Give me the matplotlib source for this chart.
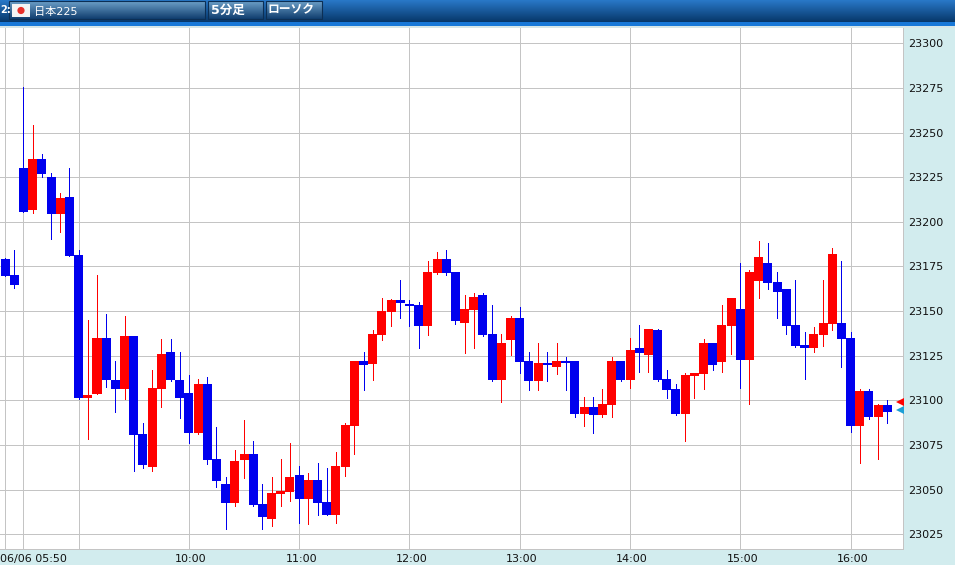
import numpy as np
import matplotlib
matplotlib.use('Agg')
import matplotlib.pyplot as plt
from matplotlib.patches import Rectangle, Circle

plt.rcParams['font.family'] = ['DejaVu Sans', 'Noto Sans CJK JP']

open_ = [23179.2, 23170.2, 23230.1, 23206.6, 23235.2, 23225.1, 23204.4, 23213.9, 23181.4, 23101.3,
         23103.5, 23134.9, 23111.4, 23106.3, 23136.0, 23081.1, 23062.6, 23106.3, 23127.1, 23111.4,
         23104.1, 23081.7, 23109.1, 23067.1, 23053.1, 23042.5, 23066.6, 23069.9, 23041.9, 23033.5,
         23047.5, 23048.6, 23058.2, 23044.7, 23055.4, 23043.0, 23035.8, 23062.6, 23085.6, 23122.0,
         23120.3, 23136.6, 23149.5, 23156.2, 23154.0, 23153.4, 23141.6, 23171.3, 23179.2, 23171.9,
         23143.3, 23150.6, 23159.0, 23137.2, 23111.4, 23133.8, 23146.1, 23122.0, 23110.8, 23120.9,
         23118.7, 23122.0, 23122.0, 23092.3, 23096.3, 23091.8, 23097.4, 23122.0, 23111.4, 23129.3,
         23125.4, 23139.4, 23111.9, 23106.3, 23092.3, 23113.6, 23114.7, 23132.1, 23121.5, 23141.6,
         23151.2, 23122.6, 23166.8, 23176.9, 23166.3, 23162.4, 23142.2, 23131.0, 23129.3, 23136.6,
         23142.8, 23143.3, 23134.9, 23085.6, 23105.2, 23090.7, 23097.4]
close = [23169.8, 23164.6, 23205.7, 23235.2, 23226.8, 23204.4, 23213.3, 23180.8, 23101.3, 23103.0,
         23134.9, 23111.4, 23106.3, 23136.0, 23080.6, 23063.8, 23106.9, 23125.9, 23111.4, 23101.3,
         23081.7, 23109.1, 23066.6, 23054.8, 23042.5, 23066.0, 23069.9, 23041.4, 23034.6, 23048.1,
         23049.2, 23057.0, 23044.7, 23055.4, 23042.5, 23035.8, 23063.2, 23086.2, 23122.0, 23119.8,
         23137.2, 23150.0, 23156.2, 23154.5, 23152.8, 23141.6, 23171.9, 23179.2, 23171.3, 23144.4,
         23151.2, 23157.9, 23136.6, 23111.4, 23132.1, 23146.1, 23121.5, 23110.8, 23120.9, 23119.8,
         23122.0, 23120.9, 23092.3, 23096.3, 23091.8, 23097.9, 23122.0, 23111.4, 23128.2, 23126.5,
         23140.0, 23111.4, 23105.8, 23092.3, 23114.2, 23115.3, 23132.1, 23119.8, 23142.2, 23157.3,
         23122.6, 23171.9, 23180.3, 23165.7, 23160.7, 23141.6, 23130.4, 23129.3, 23137.2, 23143.3,
         23182.0, 23134.4, 23085.6, 23105.2, 23090.7, 23097.4, 23093.5]
high = [23179.7, 23184.2, 23275.7, 23254.2, 23238.0, 23227.3, 23216.1, 23230.1, 23184.2, 23145.0,
        23170.2, 23148.4, 23122.0, 23147.2, 23136.0, 23087.3, 23117.0, 23134.4, 23134.4, 23127.1,
        23114.2, 23111.9, 23113.1, 23085.1, 23057.0, 23072.2, 23089.0, 23077.2, 23053.1, 23057.0,
        23067.1, 23076.1, 23063.2, 23059.3, 23064.9, 23062.1, 23071.0, 23087.3, 23122.0, 23127.1,
        23139.4, 23157.3, 23156.8, 23167.4, 23156.2, 23155.1, 23178.0, 23183.1, 23184.2, 23171.9,
        23159.0, 23160.1, 23160.1, 23153.4, 23137.2, 23147.2, 23152.3, 23127.1, 23132.1, 23127.1,
        23132.1, 23124.3, 23122.0, 23101.9, 23101.9, 23106.3, 23124.3, 23122.0, 23134.9, 23142.2,
        23140.0, 23140.0, 23117.0, 23109.1, 23115.3, 23115.3, 23134.4, 23132.1, 23153.4, 23157.3,
        23176.9, 23173.0, 23189.3, 23188.1, 23171.9, 23162.4, 23167.4, 23138.3, 23141.1, 23167.4,
        23185.3, 23178.0, 23138.3, 23106.3, 23106.3, 23097.9, 23100.2]
low = [23169.6, 23162.9, 23205.5, 23204.9, 23224.9, 23190.2, 23194.3, 23180.8, 23100.7, 23078.3,
       23103.5, 23107.6, 23093.6, 23100.9, 23060.6, 23062.1, 23060.6, 23096.3, 23110.8, 23090.1,
       23076.1, 23081.1, 23064.3, 23051.4, 23027.9, 23040.8, 23056.5, 23040.8, 23027.9, 23029.6,
       23040.8, 23043.6, 23031.3, 23030.7, 23035.8, 23035.8, 23031.3, 23057.6, 23069.9, 23105.8,
       23111.4, 23133.8, 23141.6, 23146.1, 23141.6, 23129.3, 23136.6, 23171.0, 23170.2, 23142.8,
       23126.5, 23129.3, 23136.0, 23110.8, 23099.1, 23125.4, 23115.3, 23105.8, 23105.8, 23110.8,
       23114.7, 23105.8, 23090.7, 23085.6, 23081.7, 23090.7, 23090.7, 23110.8, 23106.9, 23115.9,
       23115.9, 23110.8, 23101.3, 23091.8, 23077.2, 23101.3, 23106.3, 23117.0, 23115.9, 23125.9,
       23106.9, 23097.9, 23157.3, 23162.4, 23146.1, 23137.2, 23129.9, 23111.9, 23127.1, 23130.4,
       23139.4, 23118.7, 23082.3, 23064.9, 23089.5, 23067.1, 23087.3]

grid_idx = [0, 2, 8, 20, 32, 44, 56, 68, 80, 92]
time_idx = [2, 20, 32, 44, 56, 68, 80, 92]
time_labels = ['06/06 05:50', '10:00', '11:00', '12:00', '13:00', '14:00', '15:00', '16:00']
price_ticks = list(range(23025, 23301, 25))
last_bid = 23098.8
last_ask = 23094.3

W, H = 955, 565
fig = plt.figure(figsize=(W / 100, H / 100), dpi=100, facecolor='#D2ECEE')

ax = fig.add_axes([0, 1 - 549 / H, 903 / W, (549 - 28) / H])
ax.set_facecolor('white')
ax.set_xlim(-5.1 / 9.19, (903 - 5.1) / 9.19)
ax.set_ylim(23016.7, 23308.6)

ax.set_xticks(grid_idx)
ax.set_xticklabels([])
ax.yaxis.tick_right()
ax.set_yticks(price_ticks)
ax.set_yticklabels([str(p) for p in price_ticks], fontsize=8, color='#111111')
ax.tick_params(axis='both', length=0)
ax.tick_params(axis='y', pad=3.6)
ax.grid(True, color='#C4C4C4', linewidth=0.72)
ax.set_axisbelow(True)
for side in ['top', 'left']:
    ax.spines[side].set_visible(False)
for side in ['bottom', 'right']:
    ax.spines[side].set_color('#C4C4C4')
    ax.spines[side].set_linewidth(0.72)

# wicks first, bodies on top
idx = np.arange(len(open_))
op, cl = np.array(open_), np.array(close)
colors = np.where(cl >= op, '#FF0000', '#0000EE')
ax.vlines(idx, low, high, colors=colors, linewidth=0.72, antialiased=False, zorder=3)
ax.bar(idx, np.maximum(np.abs(cl - op), 0.5), bottom=np.minimum(op, cl), width=0.98,
       color=colors, linewidth=0, antialiased=False, zorder=4)

# current price markers
ax.plot([97.4], [last_bid], marker='<', ms=6, color='#FF0000', mew=0, clip_on=False, zorder=5)
ax.plot([97.4], [last_ask], marker='<', ms=6, color='#1C9FD6', mew=0, clip_on=False, zorder=5)

for i, lab in zip(time_idx, time_labels):
    if i == 2:
        ax.annotate(lab, xy=(i, 0), xycoords=ax.get_xaxis_transform(), xytext=(-23, -10),
                    textcoords='offset pixels', ha='left', va='center', fontsize=8, color='#111111')
    else:
        ax.annotate(lab, xy=(i, 0), xycoords=ax.get_xaxis_transform(), xytext=(2, -10),
                    textcoords='offset pixels', ha='center', va='center', fontsize=8, color='#111111')

# header bar, in pixel coordinates
top = fig.add_axes([0, 1 - 28 / H, 1, 28 / H])
top.set_xlim(0, W)
top.set_ylim(28, 0)
top.axis('off')
grad = np.linspace(0, 1, 22)[:, None, None]
c0, c1 = np.array([0.16, 0.47, 0.78]), np.array([0.03, 0.22, 0.42])
top.imshow(c0 + (c1 - c0) * grad, extent=[0, W, 22, 0], aspect='auto', zorder=1)
top.add_patch(Rectangle((0, 22), W, 4, color='#1878D8', lw=0, zorder=1))
top.add_patch(Rectangle((0, 26), W, 2, color='#D6E6E8', lw=0, zorder=1))

btn_grad = np.linspace(0, 1, 18)[:, None, None]
b0, b1 = np.array([0.42, 0.62, 0.78]), np.array([0.07, 0.25, 0.44])
for x0, x1 in [(9, 205), (208, 263), (266, 322)]:
    top.imshow(b0 + (b1 - b0) * btn_grad, extent=[x0, x1, 19, 1], aspect='auto', zorder=2)
    top.add_patch(Rectangle((x0, 1), x1 - x0, 18, fill=False, ec='#0C2F55', lw=0.8, zorder=3))
top.set_xlim(0, W)
top.set_ylim(28, 0)

top.add_patch(Rectangle((12, 4), 18, 13, color='#F4F4F4', lw=0, zorder=4))
top.add_patch(Circle((21, 10.5), 3.6, color='#E8302A', lw=0, zorder=5))
top.text(0, 10, '2:', color='white', fontsize=7, fontweight='bold', va='center', ha='left', zorder=5)
top.text(34, 12, '日本225', color='white', fontsize=8, va='center', ha='left', zorder=5)
top.text(211, 10, '5分足', color='white', fontsize=9, fontweight='bold', va='center', ha='left', zorder=5)
top.text(268, 10, 'ローソク', color='white', fontsize=8.5, fontweight='bold', va='center', ha='left', zorder=5)

fig.savefig('out.png', dpi=100, facecolor=fig.get_facecolor())
